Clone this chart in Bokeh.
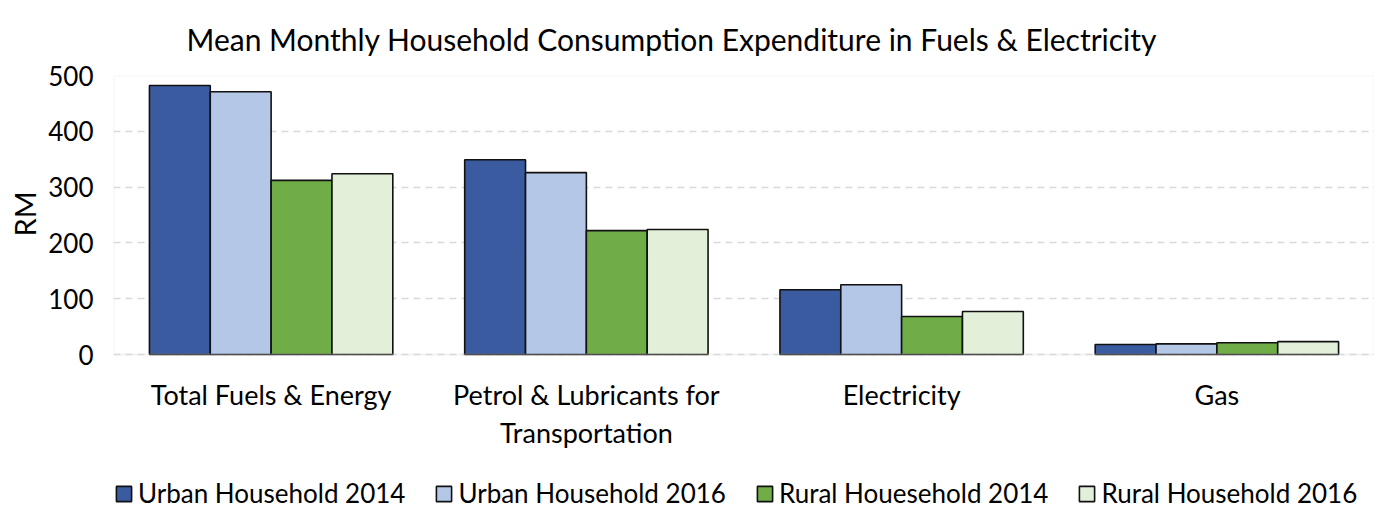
from bokeh.plotting import figure
from bokeh.models import (FactorRange, Range1d, Legend, LegendItem, ColumnDataSource,
                          BoxAnnotation, Title)
from bokeh.transform import dodge
from bokeh.core.properties import value
from bokeh.embed import file_html
from bokeh.resources import INLINE

categories = ["Total Fuels & Energy", "Petrol & Lubricants for\nTransportation", "Electricity", "Gas"]
series_names = ["Urban Household 2014", "Urban Household 2016", "Rural Houesehold 2014", "Rural Household 2016"]
urban_2014 = [482, 349, 116, 18]
urban_2016 = [471, 326, 125, 19]
rural_2014 = [312, 222, 68, 21]
rural_2016 = [324, 224, 77, 23]
y_ticks = [0, 100, 200, 300, 400, 500]
colors = ["#3A5BA0", "#B4C7E7", "#70AD47", "#E2F0D9"]

FONT = "Lato"
Y_MAX = 500
PLOT_H = 279      # pixel height of the 0..500 value area
BELOW_H = 157     # pixel room under the value area (category labels + legend)
Y_MIN = -Y_MAX * BELOW_H / PLOT_H
LABEL_Y = -Y_MAX * 23.5 / PLOT_H

source = ColumnDataSource(dict(cat=categories, u14=urban_2014, u16=urban_2016, r14=rural_2014, r16=rural_2016))

p = figure(x_range=FactorRange(*categories), y_range=Range1d(Y_MIN, Y_MAX),
           frame_width=1261, frame_height=PLOT_H + BELOW_H,
           output_backend="svg", toolbar_location=None,
           min_border_left=107, min_border_right=0, min_border_top=69, min_border_bottom=0)
p.x_range.range_padding = 0

p.title.text = "Mean Monthly Household Consumption Expenditure in Fuels & Electricity"
p.title.align = "left"
p.title.offset = 73
p.title.standoff = 37
p.title.text_line_height = 0.8
p.title.text_font = FONT
p.title.text_font_size = "30px"
p.title.text_font_style = "normal"
p.title.text_color = "#000000"

bw = 0.193
offs = [-1.5 * bw, -0.5 * bw, 0.5 * bw, 1.5 * bw]
fields = ["u14", "u16", "r14", "r16"]
renderers = []
for f, o, c in zip(fields, offs, colors):
    r = p.vbar(x=dodge("cat", o, range=p.x_range), top=f, width=bw, source=source,
               fill_color=c, line_color="#111111", line_width=1.6)
    renderers.append(r)

# category labels under the value area
p.text(x=categories, y=[LABEL_Y] * len(categories), text=categories,
       text_font=value(FONT), text_font_size="27px", text_color="#000000",
       text_align="center", text_baseline="top", text_line_height=1.14)

# grey box around the value area
p.outline_line_color = None
p.add_layout(BoxAnnotation(bottom=0, top=Y_MAX, fill_alpha=0, line_color="#d9d9d9", line_width=2))

p.xgrid.grid_line_color = None
p.ygrid.ticker = y_ticks
p.ygrid.grid_line_color = "#d9d9d9"
p.ygrid.grid_line_dash = "7 5"
p.ygrid.grid_line_width = 1.5

p.xaxis.visible = False
p.yaxis.ticker = y_ticks
p.yaxis.axis_line_color = None
p.yaxis.major_tick_line_color = None
p.yaxis.minor_tick_line_color = None
p.yaxis.major_tick_out = 0
p.yaxis.major_tick_in = 0
p.yaxis.major_label_text_color = "#000000"
p.yaxis.major_label_text_font = FONT
p.yaxis.major_label_text_font_size = "26px"
p.yaxis.major_label_standoff = 20

rm = Title(text="RM", align="left", offset=275, standoff=8,
           text_font=FONT, text_font_size="29px", text_font_style="normal", text_color="#000000")
p.add_layout(rm, "left")

legend = Legend(items=[LegendItem(label=n, renderers=[r]) for n, r in zip(series_names, renderers)],
                orientation="horizontal", location=(1, 2))
legend.label_text_font = FONT
legend.label_text_font_size = "26px"
legend.label_text_color = "#000000"
legend.glyph_width = 19
legend.glyph_height = 19
legend.label_standoff = 5
legend.spacing = 29
legend.border_line_color = None
legend.background_fill_alpha = 0
legend.padding = 0
legend.margin = 0
p.add_layout(legend, "center")

open("out.html", "w").write(file_html(p, INLINE))
